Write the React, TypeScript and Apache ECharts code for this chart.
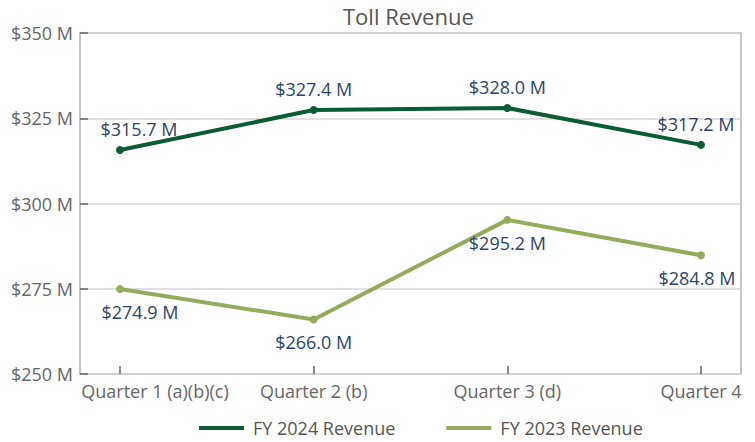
import React, { useEffect, useRef } from "react";
import * as echarts from "echarts";

const categories = ["Quarter 1 (a)(b)(c)", "Quarter 2 (b)", "Quarter 3 (d)", "Quarter 4"];
const fy2024 = [315.7, 327.4, 328.0, 317.2];
const fy2023 = [274.9, 266.0, 295.2, 284.8];
const yTicks = { min: 250, max: 350, interval: 25 };

const FONT = "Open Sans";

export default function App() {
  const ref = useRef<HTMLDivElement>(null);
  useEffect(() => {
    if (!ref.current) return;
    const chart = echarts.init(ref.current, undefined, { renderer: "svg" });
    const labelOffset = (i: number, n: number, left: number, right: number) =>
      i === 0 ? [left, 0] : i === n - 1 ? [right, 0] : [0, 0];
    const mk = (vals: number[], l: number, r: number) =>
      vals.map((v, i) => ({ value: v, label: { offset: labelOffset(i, vals.length, l, r) } }));
    chart.setOption({
      animation: false,
      textStyle: { fontFamily: FONT },
      title: {
        text: "Toll Revenue",
        left: 343,
        top: 5,
        padding: 0,
        textStyle: { fontFamily: FONT, fontSize: 22, fontWeight: "normal", color: "#555" },
      },
      legend: {
        left: 199,
        top: 419,
        padding: 0,
        icon: "rect",
        itemWidth: 45,
        itemHeight: 4,
        itemGap: 51,
        textStyle: { fontFamily: FONT, fontSize: 18, color: "#555", padding: [0, 0, 0, 4] },
        data: ["FY 2024 Revenue", "FY 2023 Revenue"],
      },
      grid: [
        { left: 80, right: 14, top: 33, bottom: 68, show: true, borderColor: "#c4c4c4", borderWidth: 2, backgroundColor: "transparent" },
        { left: 120, right: 54, top: 33, bottom: 68 },
      ],
      xAxis: [
        { type: "value", gridIndex: 0, show: false, min: 0, max: 1 },
        {
          type: "category",
          gridIndex: 1,
          data: categories.map((c, i) =>
            i === 0 ? { value: c, textStyle: { padding: [0, 0, 0, 70] } } : c
          ),
          boundaryGap: false,
          axisLine: { show: false },
          axisTick: { show: true, inside: true, length: 8, lineStyle: { color: "#666", width: 1.5 } },
          axisLabel: { color: "#666", fontSize: 18, fontFamily: FONT, margin: 8 },
          splitLine: { show: false },
        },
      ],
      yAxis: [
        {
          type: "value",
          gridIndex: 0,
          min: yTicks.min,
          max: yTicks.max,
          interval: yTicks.interval,
          axisLine: { show: true, lineStyle: { color: "#c4c4c4", width: 2 } },
          axisTick: { show: true, inside: true, length: 8, lineStyle: { color: "#666", width: 1.5 } },
          axisLabel: {
            color: "#666",
            fontSize: 18,
            fontFamily: FONT,
            margin: 7,
            formatter: (v: number) => "$" + v + " M",
          },
          splitLine: { show: true, lineStyle: { color: "#d6d6d6", width: 1.5 } },
        },
        { type: "value", gridIndex: 1, show: false, min: yTicks.min, max: yTicks.max },
      ],
      series: [
        {
          name: "FY 2024 Revenue",
          type: "line",
          xAxisIndex: 1,
          yAxisIndex: 1,
          data: mk(fy2024, 19, -5),
          symbol: "circle",
          symbolSize: 8,
          lineStyle: { width: 4, color: "#0b5c34" },
          itemStyle: { color: "#0b5c34" },
          label: {
            show: true,
            position: "top",
            distance: 8,
            color: "#2d4467",
            fontSize: 18,
            fontFamily: FONT,
            formatter: (p: any) => "$" + p.value.toFixed(1) + " M",
          },
        },
        {
          name: "FY 2023 Revenue",
          type: "line",
          xAxisIndex: 1,
          yAxisIndex: 1,
          data: mk(fy2023, 20, -4),
          symbol: "circle",
          symbolSize: 8,
          lineStyle: { width: 4, color: "#94ab5e" },
          itemStyle: { color: "#94ab5e" },
          label: {
            show: true,
            position: "bottom",
            distance: 10,
            color: "#2d4467",
            fontSize: 18,
            fontFamily: FONT,
            formatter: (p: any) => "$" + p.value.toFixed(1) + " M",
          },
        },
      ],
    });
    return () => chart.dispose();
  }, []);
  return <div ref={ref} style={{ width: 755, height: 442, position: "absolute", left: 0, top: 0 }} />;
}
